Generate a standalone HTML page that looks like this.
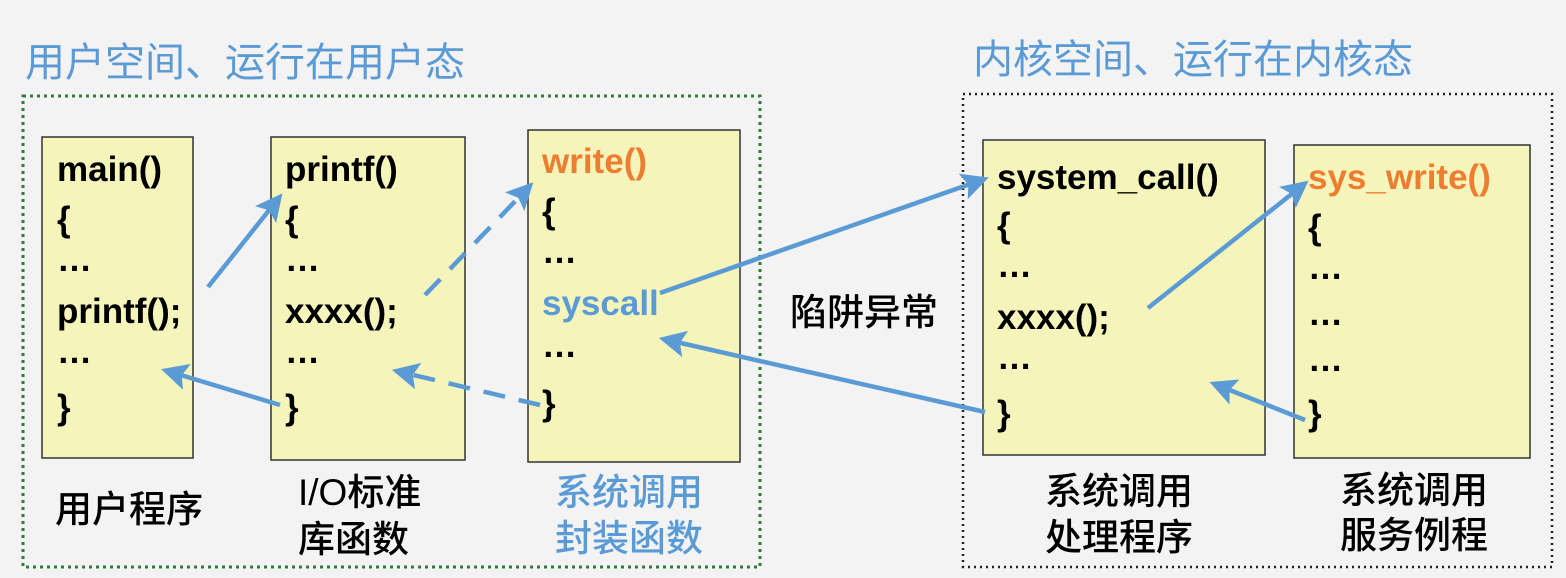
<!DOCTYPE html>
<html><head><meta charset="utf-8"><style>
body{margin:0;background:#f3f3f3;}
svg{display:block}
.c{font-family:"Liberation Sans","Noto Sans CJK SC",sans-serif;font-size:35px;font-weight:bold;fill:#000}
.z{font-family:"Liberation Sans","Noto Sans CJK SC",sans-serif;font-size:37px;font-weight:500;fill:#000}
.t{font-family:"Liberation Sans","Noto Sans CJK SC",sans-serif;font-size:40px;fill:#5b9bd5}
</style></head><body>
<svg width="1566" height="578" viewBox="0 0 1566 578">
<defs><marker id="a" markerWidth="6" markerHeight="6" refX="3" refY="3" orient="auto" markerUnits="strokeWidth"><path d="M0,0 L6,3 L0,6 L1.2,3Z" fill="#5b9bd5"/></marker></defs>
<rect width="1566" height="578" fill="#f3f3f3"/>
<text class="t" x="25" y="76">用户空间、运行在用户态</text>
<text class="t" x="973" y="73">内核空间、运行在内核态</text>
<rect x="23" y="96" width="737" height="471" fill="none" stroke="#2e7d32" stroke-width="3" stroke-dasharray="3,4"/>
<rect x="963" y="94" width="589" height="473" fill="none" stroke="#222" stroke-width="2.5" stroke-dasharray="2,4"/>
<g fill="#f5f5bb" stroke="#333" stroke-width="1.5">
<rect x="42" y="137" width="151" height="321"/>
<rect x="271" y="137" width="194" height="323"/>
<rect x="528" y="130" width="212" height="332"/>
<rect x="983" y="140" width="282" height="315"/>
<rect x="1294" y="145" width="236" height="313"/>
</g>
<g class="c">
<text x="57" y="181">main()</text><text x="57" y="231">{</text><text x="57" y="271">…</text><text x="57" y="323">printf();</text><text x="57" y="363">…</text><text x="57" y="419">}</text>
<text x="285" y="181">printf()</text><text x="285" y="231">{</text><text x="285" y="271">…</text><text x="285" y="323">xxxx();</text><text x="285" y="363">…</text><text x="285" y="419">}</text>
<text x="542" y="173" style="fill:#ed7d31">write()</text><text x="542" y="223">{</text><text x="542" y="263">…</text><text x="542" y="315" style="fill:#5b9bd5">syscall</text><text x="542" y="357">…</text><text x="542" y="415">}</text>
<text x="997" y="189">system_call()</text><text x="997" y="237">{</text><text x="997" y="277">…</text><text x="997" y="329">xxxx();</text><text x="997" y="369">…</text><text x="997" y="425">}</text>
<text x="1308" y="189" style="fill:#ed7d31">sys_write()</text><text x="1308" y="239">{</text><text x="1308" y="279">…</text><text x="1308" y="325">…</text><text x="1308" y="371">…</text><text x="1308" y="425">}</text>
</g>
<g class="z">
<text x="55" y="522">用户程序</text>
<text x="298" y="505">I/O标准</text><text x="298" y="552">库函数</text>
<text x="555" y="505" style="fill:#5b9bd5">系统调用</text><text x="555" y="551" style="fill:#5b9bd5">封装函数</text>
<text x="790" y="325">陷阱异常</text>
<text x="1045" y="504">系统调用</text><text x="1045" y="550">处理程序</text>
<text x="1340" y="503">系统调用</text><text x="1340" y="548">服务例程</text>
</g>
<g stroke="#5b9bd5" stroke-width="4.5" fill="none" marker-end="url(#a)">
<line x1="208" y1="287" x2="274" y2="204"/>
<line x1="425" y1="295" x2="524" y2="192" stroke-dasharray="22,14"/>
<line x1="660" y1="293" x2="976" y2="182"/>
<line x1="1148" y1="308" x2="1298" y2="189"/>
<line x1="1305" y1="420" x2="1222" y2="387"/>
<line x1="985" y1="412" x2="672" y2="341"/>
<line x1="540" y1="405" x2="405" y2="373" stroke-dasharray="22,14"/>
<line x1="280" y1="405" x2="174" y2="373"/>
</g>
</svg>
</body></html>
